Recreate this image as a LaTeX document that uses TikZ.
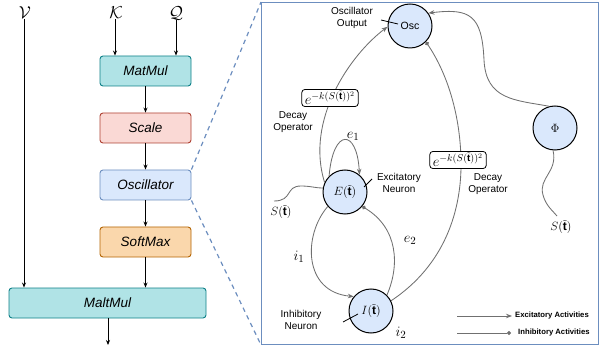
\documentclass[tikz,border=0pt]{standalone}
\usepackage{fontspec}
\setmainfont{Liberation Sans}
\usetikzlibrary{arrows.meta}
\definecolor{tealF}{HTML}{B0E3E6}
\definecolor{tealD}{HTML}{0E8088}
\definecolor{redF}{HTML}{FAD9D5}
\definecolor{redD}{HTML}{AE4132}
\definecolor{bluF}{HTML}{DAE8FC}
\definecolor{bluD}{HTML}{6C8EBF}
\definecolor{orgF}{HTML}{FAD7AC}
\definecolor{orgD}{HTML}{B46504}
\definecolor{wire}{HTML}{707070}
\begin{document}
\begin{tikzpicture}[x=1pt,y=-1pt,
 opbox/.style={draw, rounded corners=3pt, minimum width=91pt, minimum height=30pt, inner sep=0pt, line width=0.9pt, font=\fontsize{13.5}{16}\selectfont\itshape},
 larr/.style={-{Stealth[length=5pt,width=4pt]}, line width=0.8pt},
 neuron/.style={circle, draw, fill=bluF, minimum size=44pt, inner sep=0pt, line width=1pt},
 lbl/.style={font=\fontsize{10}{11.5}\selectfont, align=center, inner sep=0pt},
 mlbl/.style={font=\fontsize{15}{16}\selectfont, inner sep=0pt},
 toplbl/.style={font=\fontsize{17}{18}\selectfont, inner sep=0pt},
 decaybox/.style={draw, rounded corners=3pt, fill=white, line width=0.8pt, inner xsep=3pt, inner ysep=1.5pt, font=\fontsize{14}{15}\selectfont},
 wirel/.style={draw=wire, line width=0.85pt},
 exc/.style={wirel, -{Stealth[length=6pt,width=4.5pt]}},
 inh/.style={wirel, -{Circle[length=4pt]}},
 dashline/.style={draw=bluD, line width=1.2pt, dash pattern=on 4.5pt off 4pt},
 legtxt/.style={font=\fontsize{7.7}{9}\selectfont\bfseries, inner sep=0pt, anchor=west}]
\useasboundingbox (0,0) rectangle (599,347);

% ---------- left column ----------
\node[toplbl] (V) at (25,13) {$\mathcal{V}$};
\node[toplbl] (K) at (116,13) {$\mathcal{K}$};
\node[toplbl] (Q) at (176,13) {$\mathcal{Q}$};

\node[opbox, fill=tealF, draw=tealD] (matmul) at (145.5,71) {MatMul};
\node[opbox, fill=redF, draw=redD] (scale) at (145.5,128) {Scale};
\node[opbox, fill=bluF, draw=bluD] (oscbox) at (145.5,185) {Oscillator};
\node[opbox, fill=orgF, draw=orgD] (softmax) at (145.5,242) {SoftMax};
\node[opbox, fill=tealF, draw=tealD, minimum width=197pt] (malt) at (107.5,303) {MaltMul};
\coordinate (out) at (108,345);
\coordinate (vx) at (24,0);
\coordinate (kx) at (115,0);

\draw[larr] (K.south -| kx) -- (kx |- matmul.north);
\draw[larr] (Q) -- (Q |- matmul.north);
\draw[larr] (V.south -| vx) -- (vx |- malt.north);
\draw[larr] (matmul) -- (scale);
\draw[larr] (scale) -- (oscbox);
\draw[larr] (oscbox) -- (softmax);
\draw[larr] (softmax) -- (softmax |- malt.north);
\draw[larr] (malt.south -| out) -- (out);

% ---------- right panel ----------
\node[draw=bluD, line width=1pt, anchor=north west, minimum width=337pt, minimum height=342pt, inner sep=0pt] (panel) at (261,2) {};
\draw[dashline] (oscbox.north east) -- (panel.north west);
\draw[dashline] (oscbox.south east) -- (panel.south west);

\node[neuron] (osc) at (410,26) {\fontsize{10.5}{12}\selectfont Osc};
\node[neuron] (phi) at (555,128) {\fontsize{13}{14}\selectfont $\Phi$};
\node[neuron] (E) at (345,192) {\fontsize{12}{13}\selectfont $E(\tilde{\mathbf{t}})$};
\node[neuron] (I) at (371,311) {\fontsize{12}{13}\selectfont $I(\tilde{\mathbf{t}})$};

\node[lbl] (oscout) at (352,18) {Oscillator\\Output};
\draw[line width=0.8pt] (381,20) -- (398,24);
\node[lbl] (excn) at (399,183) {Excitatory\\Neuron};
\draw[line width=0.8pt] (364,187) -- (372,179);
\node[lbl] (inhn) at (301,320) {Inhibitory\\Neuron};
\draw[line width=0.8pt] (343,322) -- (358,314);

\node[lbl] (dop1) at (293,122) {Decay\\Operator};
\node[lbl] (dop2) at (488,184) {Decay\\Operator};

\node[inner sep=0pt] (sl) at (281,212) {\fontsize{12}{13}\selectfont $S(\tilde{\mathbf{t}})$};
\node[inner sep=0pt] (sr) at (561,227) {\fontsize{12}{13}\selectfont $S(\tilde{\mathbf{t}})$};
\coordinate (slw) at (274,201);
\coordinate (srw) at (557,216);

% connectors
\draw[exc] (E.155) .. controls (305,120) and (350,55) .. (osc.182);
\draw[inh] (I.27) .. controls (445,265) and (462,210) .. (461,160) .. controls (460,110) and (445,70) .. (osc.-45);
\draw[exc] (phi.105) .. controls (515,100) and (486,100) .. (484,60) .. controls (482,15) and (470,8) .. (osc.35);
\draw[wirel] (phi.-95) .. controls (558,172) and (538,178) .. (543,195) .. controls (546,206) and (553,211) .. (srw);
\draw[wirel] (slw) .. controls (293,201) and (285,186) .. (301,186) .. controls (310,186) and (316,188) .. (E.170);
\draw[exc] (E.135) .. controls (333,128) and (357,128) .. (E.50);
\draw[exc] (E.220) .. controls (303,235) and (303,292) .. (I.140);
\draw[inh] (I.45) .. controls (400,265) and (398,228) .. (E.-40);

\node[decaybox] (d1) at (330,98) {$e^{-k(S(\tilde{\mathbf{t}}))^2}$};
\node[decaybox] (d2) at (458,160) {$e^{-k(S(\tilde{\mathbf{t}}))^2}$};

\node[mlbl] (e1) at (353,136) {$e_1$};
\node[mlbl] (e2) at (410,240) {$e_2$};
\node[mlbl] (i1) at (299,257) {$i_1$};
\node[mlbl] (i2) at (401,333) {$i_2$};

% legend
\node[legtxt] (lt1) at (515,316) {Excitatory Activities};
\node[legtxt] (lt2) at (518,333) {Inhibitory Activities};
\coordinate (la1) at (457,316);
\coordinate (la2) at (457,333);
\draw[exc] (la1) -- ([xshift=-3pt]lt1.west);
\draw[inh] (la2) -- ([xshift=-7pt]lt2.west);
\end{tikzpicture}
\end{document}
